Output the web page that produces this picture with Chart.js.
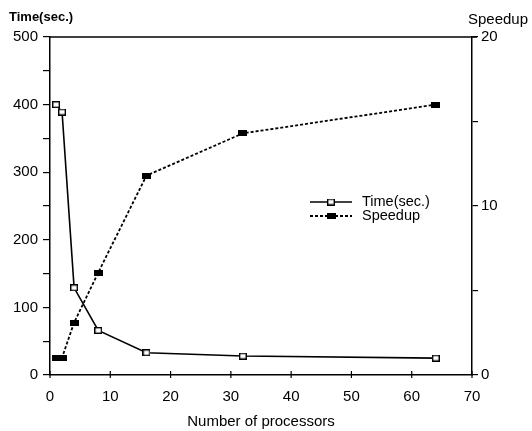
<!DOCTYPE html>
<html>
<head>
<meta charset="utf-8">
<script src="https://cdn.jsdelivr.net/npm/chart.js@4/dist/chart.umd.min.js"></script>
<style>
  html, body { margin: 0; padding: 0; background: #fff; }
  canvas { display: block; }
</style>
</head>
<body>
<canvas id="c" width="532" height="431"></canvas>
<script>
// Processor counts (x axis)
const processors = [1, 2, 4, 8, 16, 32, 64];
// Execution time in seconds (left axis)
const timeSec = [400, 389, 129, 66, 33, 28, 25];
// Speedup relative to one processor (right axis)
const speedup = [1.0, 1.03, 3.1, 6.06, 11.8, 14.3, 16.0];
// Tick labels shown on each axis
const xTickLabels = [0, 10, 20, 30, 40, 50, 60, 70];
const timeTickLabels = [0, 100, 200, 300, 400, 500];
const speedupTickLabels = [0, 10, 20];

const FONT = '"Liberation Sans", Arial, Helvetica, sans-serif';

function markerCanvas(w, h, fill, stroke) {
  const cv = document.createElement('canvas');
  cv.width = w; cv.height = h;
  const g = cv.getContext('2d');
  g.fillStyle = fill;
  g.fillRect(0, 0, w, h);
  if (stroke) {
    g.strokeStyle = stroke;
    g.lineWidth = 1.4;
    g.strokeRect(0.7, 0.7, w - 1.4, h - 1.4);
  }
  return cv;
}
const openSquare = markerCanvas(8, 7, '#fff', '#000');
const filledRect = markerCanvas(9, 6, '#000', null);

// Frame, inward x ticks, axis captions and the in-plot legend
const decorations = {
  id: 'decorations',
  afterDraw(chart) {
    const { ctx, chartArea: a, scales } = chart;
    ctx.save();
    ctx.strokeStyle = '#000';
    ctx.lineWidth = 1.5;
    ctx.beginPath();
    ctx.moveTo(a.left, a.top); ctx.lineTo(a.right + 5, a.top);
    ctx.stroke();
    // x ticks pointing into the plot
    ctx.lineWidth = 1.2;
    xTickLabels.forEach(v => {
      const px = scales.x.getPixelForValue(v);
      ctx.beginPath();
      ctx.moveTo(px, a.bottom + 3); ctx.lineTo(px, a.bottom - 4);
      ctx.stroke();
    });
    // axis captions
    ctx.fillStyle = '#000';
    ctx.textBaseline = 'middle';
    ctx.textAlign = 'left';
    ctx.font = 'bold 13px ' + FONT;
    ctx.fillText('Time(sec.)', 9, 17);
    ctx.font = '15px ' + FONT;
    ctx.fillText('Speedup', 468, 20);
    // legend
    const rows = [[a.top + 165, 0], [a.top + 179, 1]];
    rows.forEach(([y, i]) => {
      const ds = chart.data.datasets[i];
      ctx.strokeStyle = '#000';
      ctx.lineWidth = ds.borderWidth;
      ctx.setLineDash(ds.borderDash || []);
      ctx.beginPath();
      ctx.moveTo(310, y); ctx.lineTo(352, y);
      ctx.stroke();
      ctx.setLineDash([]);
      const m = ds.pointStyle;
      ctx.drawImage(m, 331 - m.width / 2, y - m.height / 2);
      ctx.fillStyle = '#000';
      ctx.font = '14.5px ' + FONT;
      ctx.fillText(ds.label, 362, y);
    });
    ctx.restore();
  }
};

new Chart(document.getElementById('c'), {
  type: 'line',
  data: {
    datasets: [
      {
        label: 'Time(sec.)',
        data: processors.map((p, i) => ({ x: p, y: timeSec[i] })),
        yAxisID: 'yTime',
        borderColor: '#000',
        borderWidth: 1.6,
        pointStyle: openSquare,
        tension: 0
      },
      {
        label: 'Speedup',
        data: processors.map((p, i) => ({ x: p, y: speedup[i] })),
        yAxisID: 'ySpeed',
        borderColor: '#000',
        borderWidth: 1.8,
        borderDash: [3, 2],
        pointStyle: filledRect,
        tension: 0
      }
    ]
  },
  options: {
    responsive: false,
    animation: false,
    layout: { padding: { top: 37, left: 0, right: 0, bottom: 0 } },
    plugins: { legend: { display: false }, tooltip: { enabled: false } },
    scales: {
      x: {
        type: 'linear',
        min: 0, max: 70,
        afterFit(s) { s.height = 56; },
        border: { display: true, color: '#000', width: 1.5 },
        grid: { display: false },
        ticks: {
          stepSize: 10,
          padding: 5,
          color: '#000',
          font: { family: FONT, size: 15 },
          callback: v => xTickLabels.includes(v) ? String(v) : ''
        },
        title: {
          display: true,
          text: 'Number of processors',
          color: '#000',
          font: { family: FONT, size: 15 },
          padding: { top: 8, bottom: 0 }
        }
      },
      yTime: {
        position: 'left',
        min: 0, max: 500,
        afterFit(s) { s.width = 50; },
        border: { display: true, color: '#000', width: 1.5 },
        grid: { drawOnChartArea: false, tickLength: 7, color: '#000', lineWidth: 1.2 },
        ticks: {
          stepSize: 50,
          padding: 5,
          color: '#000',
          font: { family: FONT, size: 15 },
          callback: v => timeTickLabels.includes(v) ? String(v) : ''
        }
      },
      ySpeed: {
        position: 'right',
        min: 0, max: 20,
        afterFit(s) { s.width = 60; },
        border: { display: true, color: '#000', width: 1.5 },
        grid: { drawOnChartArea: false, tickLength: 6, color: '#000', lineWidth: 1.2 },
        ticks: {
          stepSize: 5,
          padding: 3,
          color: '#000',
          font: { family: FONT, size: 15 },
          callback: v => speedupTickLabels.includes(v) ? String(v) : ''
        }
      }
    }
  },
  plugins: [decorations]
});
</script>
</body>
</html>
